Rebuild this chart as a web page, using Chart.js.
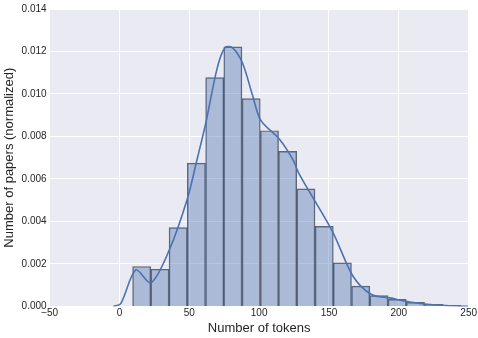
<!DOCTYPE html>
<html>
<head>
<meta charset="utf-8">
<script src="https://cdn.jsdelivr.net/npm/chart.js@4/dist/chart.umd.min.js"></script>
<style>
  html, body { margin: 0; padding: 0; background: #fff; }
  #wrap { width: 478px; height: 338px; }
</style>
</head>
<body>
<div id="wrap"><canvas id="histChart" width="478" height="338"></canvas></div>
<script>
// histogram bins (centres) and normalized heights
const binCenters = [15.9, 29.0, 42.0, 55.1, 68.2, 81.2, 94.3, 107.4, 120.4, 133.5, 146.6, 159.6, 172.7, 185.8, 198.8, 211.9, 225.0, 238.0];
const binHeights = [0.00188, 0.00175, 0.00371, 0.00675, 0.01077, 0.01222, 0.00978, 0.00827, 0.0073, 0.00553, 0.00377, 0.00205, 0.00096, 0.00051, 0.00033, 0.00019, 0.0001, 0.00005];

// kernel density estimate curve
const kdeX = [-4.3, 0.9, 11.7, 22.5, 35.5, 48.4, 55.6, 61.7, 70, 75.5, 80.8, 88, 95.2, 101.2, 114.4, 124, 128.8, 152.7, 167.1, 180.4, 193.5, 207.9, 224.5, 249.6];
const kdeY = [0, 0.00013, 0.00172, 0.00111, 0.00263, 0.00502, 0.00693, 0.0086, 0.01123, 0.01218, 0.01218, 0.01147, 0.00995, 0.00876, 0.00788, 0.00693, 0.00621, 0.0035, 0.00143, 0.00056, 0.0004, 0.00021, 0.00008, 0];

const xTicks = [-50, 0, 50, 100, 150, 200, 250];
const yTicks = [0, 0.002, 0.004, 0.006, 0.008, 0.010, 0.012, 0.014];

const plotBg = {
  id: "plotBg",
  beforeDraw(chart) {
    const { ctx, chartArea: a } = chart;
    ctx.save();
    ctx.fillStyle = "#EAEAF2";
    ctx.fillRect(a.left, a.top, a.right - a.left, a.bottom - a.top);
    ctx.restore();
  }
};

const ctx = document.getElementById("histChart").getContext("2d");
new Chart(ctx, {
  type: "bar",
  data: {
    datasets: [
      {
        type: "line",
        data: kdeX.map((x, i) => ({ x: x, y: kdeY[i] })),
        borderColor: "#4C72B0",
        borderWidth: 1.6,
        pointRadius: 0,
        tension: 0.3,
        fill: false,
        order: 0
      },
      {
        type: "bar",
        data: binCenters.map((x, i) => ({ x: x, y: binHeights[i] })),
        backgroundColor: "rgba(76,114,176,0.4)",
        borderColor: "rgba(40,45,60,0.7)",
        borderWidth: 0.8,
        barPercentage: 1,
        categoryPercentage: 1,
        grouped: false,
        order: 1
      }
    ]
  },
  options: {
    responsive: false,
    animation: false,
    layout: { padding: { top: 6, right: 8, left: 2, bottom: 2 } },
    plugins: { legend: { display: false }, tooltip: { enabled: false } },
    scales: {
      x: {
        type: "linear",
        min: -50,
        max: 250,
        offset: false,
        afterBuildTicks: (s) => { s.ticks = xTicks.map(v => ({ value: v })); },
        grid: { color: "#ffffff", lineWidth: 1, drawTicks: false, offset: false },
        border: { display: false },
        ticks: {
          padding: 1,
          color: "#262626",
          font: { family: "Liberation Sans", size: 10 },
          callback: (v) => String(v).replace("-", "\u2212")
        },
        title: {
          display: true,
          text: "Number of tokens",
          color: "#262626",
          font: { family: "Liberation Sans", size: 13 },
          padding: { top: 0, bottom: 0 }
        }
      },
      y: {
        min: 0,
        max: 0.014,
        afterBuildTicks: (s) => { s.ticks = yTicks.map(v => ({ value: v })); },
        grid: { color: "#ffffff", lineWidth: 1, drawTicks: false },
        border: { display: false },
        ticks: {
          padding: 3,
          color: "#262626",
          font: { family: "Liberation Sans", size: 10 },
          callback: (v) => v.toFixed(3)
        },
        title: {
          display: true,
          text: "Number of papers (normalized)",
          color: "#262626",
          font: { family: "Liberation Sans", size: 13 },
          padding: { top: 0, bottom: 1 }
        }
      }
    }
  },
  plugins: [plotBg]
});
</script>
</body>
</html>
